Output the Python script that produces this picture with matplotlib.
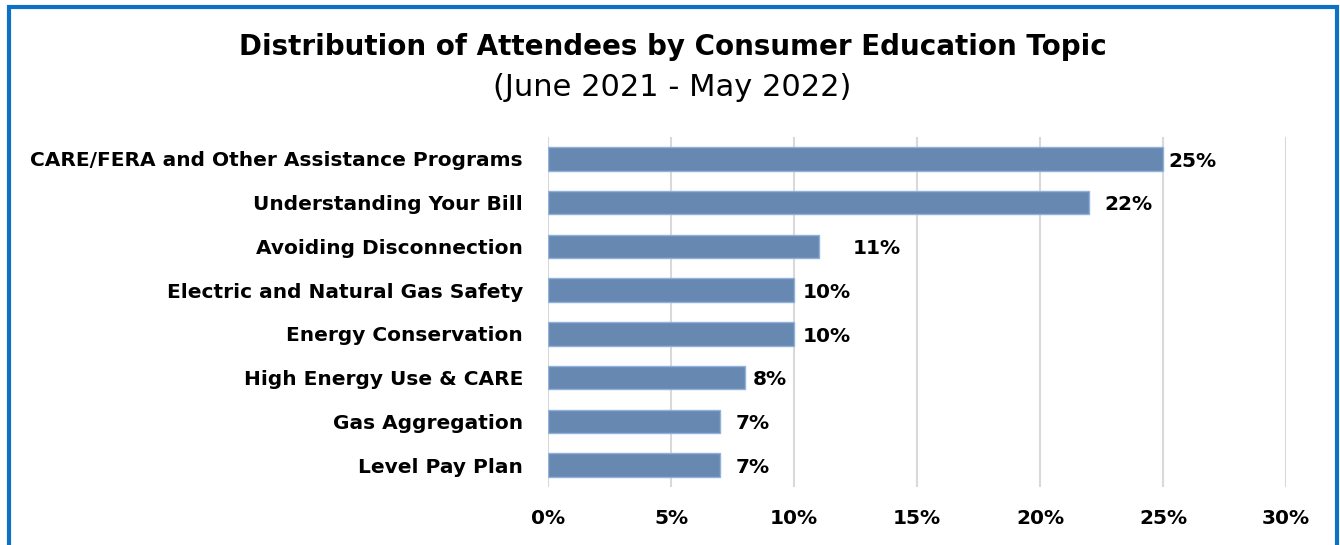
import matplotlib.pyplot as plt
from matplotlib.patches import Rectangle

topics = [
    "CARE/FERA and Other Assistance Programs",
    "Understanding Your Bill",
    "Avoiding Disconnection",
    "Electric and Natural Gas Safety",
    "Energy Conservation",
    "High Energy Use & CARE",
    "Gas Aggregation",
    "Level Pay Plan",
]
share_pct = [25, 22, 11, 10, 10, 8, 7, 7]
xticks_pct = [0, 5, 10, 15, 20, 25, 30]

# gap between bar end and its value label (in % units)
label_pad = [0.23, 0.62, 1.39, 0.37, 0.37, 0.33, 0.63, 0.63]

W, H = 1340, 545
fig = plt.figure(figsize=(W / 100, H / 100), dpi=100)
plt.rcParams["font.family"] = ["DejaVu Sans"]

ax = fig.add_axes([548 / W, 1 - 487 / H, (1286 - 548) / W, (487 - 137) / H])

ypos = list(range(len(topics)))
ax.barh(ypos, share_pct, height=0.54, color="#6789B1", edgecolor="#8FB1DA",
        linewidth=1.0, zorder=3)
for y, v, pad in zip(ypos, share_pct, label_pad):
    ax.text(v + pad, y + 0.05, f"{v}%", va="center", ha="left",
            fontsize=14.5, fontweight="bold", color="black")

ax.set_xlim(0, 30)
ax.set_ylim(len(topics) - 0.5, -0.5)
ax.set_yticks(ypos)
ax.set_yticklabels(topics, fontsize=14.5, fontweight="bold")
ax.set_xticks(xticks_pct)
ax.set_xticklabels([f"{t}%" for t in xticks_pct], fontsize=14.5, fontweight="bold")
ax.tick_params(axis="both", length=0)
ax.tick_params(axis="y", pad=18)
ax.tick_params(axis="x", pad=16)
ax.grid(axis="x", color="#D9D9D9", linewidth=1.5, zorder=0)
for s in ax.spines.values():
    s.set_visible(False)

fig.text(0.502, 1 - 47 / H, "Distribution of Attendees by Consumer Education Topic",
         ha="center", va="center", fontsize=20, fontweight="bold")
fig.text(0.502, 1 - 87 / H, "(June 2021 - May 2022)",
         ha="center", va="center", fontsize=22)

# blue frame around the chart
fig.patches.append(Rectangle((8.5 / W, -0.05), (1337 - 8.5) / W, 1.05 - 6.5 / H,
                             transform=fig.transFigure, fill=False,
                             edgecolor="#0D72C4", linewidth=3.0))

fig.savefig("out.png", dpi=100)
